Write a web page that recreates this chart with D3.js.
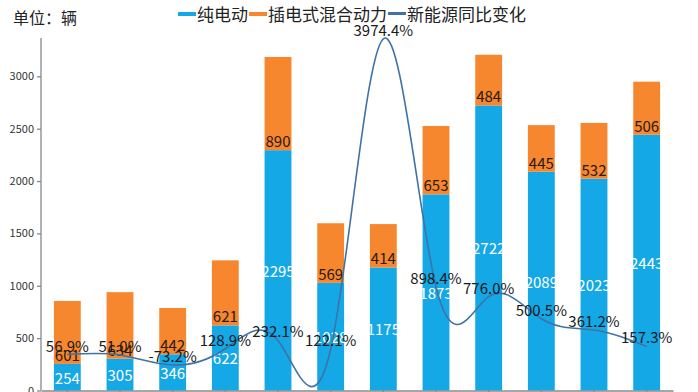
<!doctype html>
<html lang="zh-cn">
<head>
	<meta charset="UTF-8">
	<title>新能源汽车销量</title>
	<style>
		body { margin: 0; background: #fff; }
		svg text { font-family: "Noto Sans CJK SC", "Noto Sans", sans-serif; }
		.axis path, .axis line { stroke: #888; stroke-width: 1.3; }
		.axis text { fill: #333; font-size: 11px; }
	</style>
</head>
<body>
	<script src="https://cdn.jsdelivr.net/npm/d3@7"></script>
	<script>
		// data
		var months = ['1', '2', '3', '4', '5', '6', '7', '8', '9', '10', '11', '12'];
		var pureEV = [254, 305, 346, 622, 2295, 1028, 1175, 1873, 2722, 2089, 2023, 2443];
		var plugIn = [601, 634, 442, 621, 890, 569, 414, 653, 484, 445, 532, 506];
		var yoyPct = [56.9, 51.0, -73.2, 128.9, 232.1, 122.1, 3974.4, 898.4, 776.0, 500.5, 361.2, 157.3];
		var yTicks = [0, 500, 1000, 1500, 2000, 2500, 3000];

		var w = 698,
			h = 392,
			plotLeft = 41,
			plotRight = 673,
			plotTop = 38,
			plotBottom = 390.5;

		var colBlue = '#15a8e6',
			colOrange = '#f7872e',
			colLine = '#3f73a6';

		var svg = d3.select('body')
			.append('svg')
			.attr('width', w)
			.attr('height', h);

		var x = d3.scaleBand()
			.domain(months)
			.range([plotLeft, plotRight])
			.paddingInner(0.49)
			.paddingOuter(0.245);

		var y = d3.scaleLinear()
			.domain([0, 3366])
			.range([plotBottom, plotTop]);

		// hidden second axis for the percentage line
		var y2 = d3.scaleLinear()
			.domain([-389, 3984])
			.range([plotBottom, plotTop]);

		var cx = function(i) {
			return x(months[i]) + x.bandwidth() / 2;
		};

		// bars
		svg.selectAll('rect.ev')
			.data(pureEV)
			.enter()
			.append('rect')
			.attr('class', 'ev')
			.attr('x', function(d, i) { return x(months[i]); })
			.attr('y', function(d) { return y(d); })
			.attr('width', x.bandwidth())
			.attr('height', function(d) { return y(0) - y(d); })
			.attr('fill', colBlue);

		svg.selectAll('rect.phev')
			.data(plugIn)
			.enter()
			.append('rect')
			.attr('class', 'phev')
			.attr('x', function(d, i) { return x(months[i]); })
			.attr('y', function(d, i) { return y(pureEV[i] + d); })
			.attr('width', x.bandwidth())
			.attr('height', function(d, i) { return y(pureEV[i]) - y(pureEV[i] + d); })
			.attr('fill', colOrange);

		// axes
		svg.append('g')
			.attr('class', 'axis')
			.attr('transform', 'translate(' + plotLeft + ',0)')
			.call(d3.axisLeft(y).tickValues(yTicks).tickFormat(d3.format('d'))
				.tickSize(4).tickPadding(3).tickSizeOuter(0))
			.call(function(g) { g.select('.domain').attr('d', 'M0,' + plotTop + 'V' + plotBottom); });

		svg.append('g')
			.attr('class', 'axis')
			.attr('transform', 'translate(0,' + plotBottom + ')')
			.call(d3.axisBottom(x).tickSize(4).tickSizeOuter(0).tickFormat(''));

		// value labels
		svg.selectAll('text.evLabel')
			.data(pureEV)
			.enter()
			.append('text')
			.attr('class', 'evLabel')
			.attr('x', function(d, i) { return cx(i); })
			.attr('y', function(d) { return (y(0) + y(d)) / 2; })
			.attr('text-anchor', 'middle')
			.attr('dominant-baseline', 'central')
			.attr('fill', '#fff')
			.style('font-size', '15px')
			.text(function(d) { return d; });

		svg.selectAll('text.phevLabel')
			.data(plugIn)
			.enter()
			.append('text')
			.attr('class', 'phevLabel')
			.attr('x', function(d, i) { return cx(i); })
			.attr('y', function(d, i) { return y(pureEV[i]) - 3; })
			.attr('text-anchor', 'middle')
			.attr('fill', '#2a1a10')
			.style('font-size', '15px')
			.text(function(d) { return d; });

		// smoothed yoy line
		var line = d3.line()
			.x(function(d, i) { return cx(i); })
			.y(function(d) { return y2(d); })
			.curve(d3.curveNatural);

		svg.append('path')
			.datum(yoyPct)
			.attr('d', line)
			.attr('fill', 'none')
			.attr('stroke', colLine)
			.attr('stroke-width', 1.6);

		svg.selectAll('text.pctLabel')
			.data(yoyPct)
			.enter()
			.append('text')
			.attr('class', 'pctLabel')
			.attr('x', function(d, i) { return cx(i); })
			.attr('y', function(d) { return y2(d) - 3; })
			.attr('text-anchor', 'middle')
			.attr('fill', '#1a1a1a')
			.style('font-size', '15px')
			.text(function(d) { return d.toFixed(1) + '%'; });

		// unit title
		svg.append('text')
			.attr('x', 13)
			.attr('y', 24)
			.attr('fill', '#222')
			.style('font-size', '16px')
			.text('单位：辆');

		// legend
		var legendItems = [
			{ name: '纯电动', color: colBlue },
			{ name: '插电式混合动力', color: colOrange },
			{ name: '新能源同比变化', color: colLine }
		];
		var lx = 178;
		legendItems.forEach(function(item) {
			svg.append('rect')
				.attr('x', lx)
				.attr('y', 12)
				.attr('width', 18)
				.attr('height', item.color === colLine ? 3 : 4)
				.attr('fill', item.color);
			var t = svg.append('text')
				.attr('x', lx + 19)
				.attr('y', 21)
				.attr('fill', '#222')
				.style('font-size', '17px')
				.text(item.name);
			lx += 19 + t.node().getComputedTextLength() + 1;
		});
	</script>
</body>
</html>
